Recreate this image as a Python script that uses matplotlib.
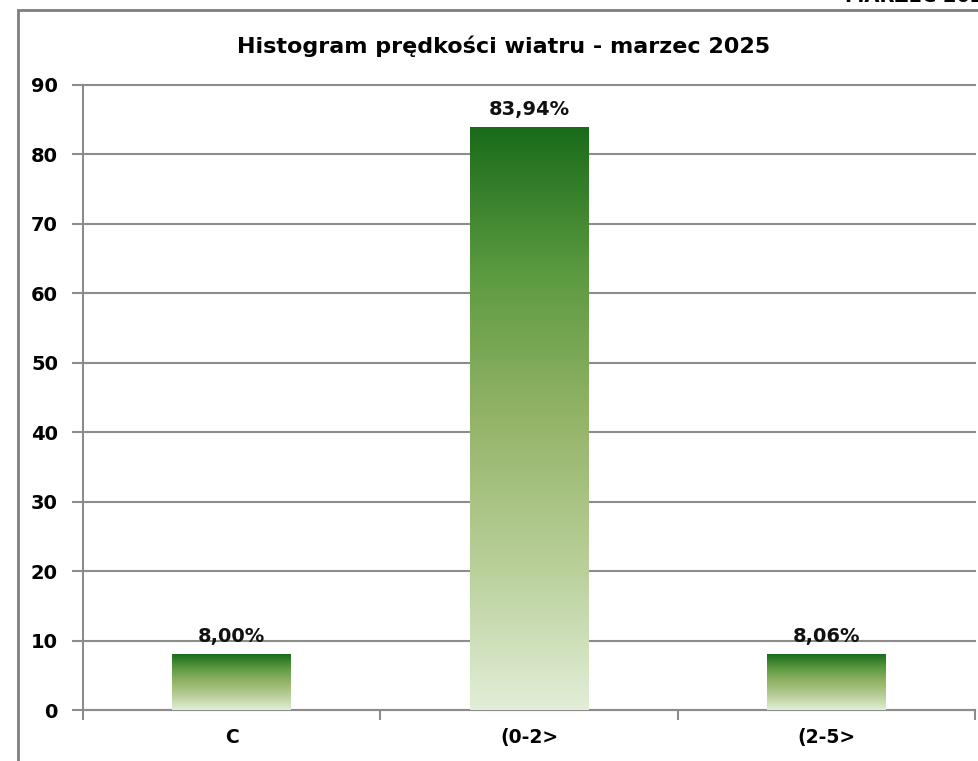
import numpy as np
import matplotlib
matplotlib.use('Agg')
import matplotlib.pyplot as plt
from matplotlib.colors import LinearSegmentedColormap
from matplotlib.patches import Rectangle

plt.rcParams['font.family'] = ['DejaVu Sans']
plt.rcParams['font.weight'] = 'bold'

categories = ['C', '(0-2>', '(2-5>']
values = [8.00, 83.94, 8.06]
labels = ['8,00%', '83,94%', '8,06%']
yticks = [0, 10, 20, 30, 40, 50, 60, 70, 80, 90]

W, H = 979, 761
fig = plt.figure(figsize=(W / 100, H / 100), dpi=100)
fig.patch.set_facecolor('white')

# outer chart border (runs off right and bottom edges)
fig.patches.append(Rectangle((18 / W, -0.05), 1.1, 1 - 10 / H + 0.05,
                             transform=fig.transFigure, fill=False,
                             edgecolor='#7f7f7f', linewidth=2))

ax = fig.add_axes([83 / W, 1 - 710 / H, (975 - 83) / W, (710 - 85) / H])

cmap = LinearSegmentedColormap.from_list(
    'grn', ['#e2eed8', '#b8cf98', '#94b468', '#5c9a40', '#1a6b1a'])
grad = np.linspace(0, 1, 256).reshape(-1, 1)
bw = 0.4
for i, v in enumerate(values):
    x0 = i + 0.5 - bw / 2
    ax.imshow(grad, cmap=cmap, origin='lower', aspect='auto',
              extent=[x0, x0 + bw, 0, v], zorder=3)
    ax.text(i + 0.5, v + 1.2, labels[i], ha='center', va='bottom',
            fontsize=14, fontweight='bold', color='#111111', zorder=4)
ax.set_xlim(0, 3)
ax.set_ylim(0, 90)

ax.set_yticks(yticks)
ax.set_yticklabels([str(t) for t in yticks], fontsize=14, fontweight='bold')
ax.set_xticks([0, 1, 2, 3])
ax.set_xticklabels([])
ax.set_xticks([0.5, 1.5, 2.5], minor=True)
ax.set_xticklabels(categories, minor=True, fontsize=13.5, fontweight='bold')
ax.tick_params(axis='x', which='minor', length=0, pad=13)
ax.tick_params(axis='x', which='major', length=7, color='#8c8c8c', width=1.5,
               direction='out')
ax.tick_params(axis='y', length=8, color='#8c8c8c', width=1.5, pad=10)

ax.grid(axis='y', color='#8c8c8c', linewidth=1.5, zorder=0)
for gl in ax.get_ygridlines():
    gl.set_clip_on(False)
ax.set_axisbelow(True)
for s in ['top', 'right']:
    ax.spines[s].set_visible(False)
for s in ['left', 'bottom']:
    ax.spines[s].set_color('#8c8c8c')
    ax.spines[s].set_linewidth(1.5)

fig.text(504 / W, 1 - 46 / H, 'Histogram prędkości wiatru - marzec 2025',
         ha='center', va='center', fontsize=16, fontweight='bold')
fig.text(845 / W, 1 - 2 / H, 'MARZEC 2025', ha='left', va='baseline',
         fontsize=14, fontweight='bold')

fig.savefig('out.png', dpi=100)
